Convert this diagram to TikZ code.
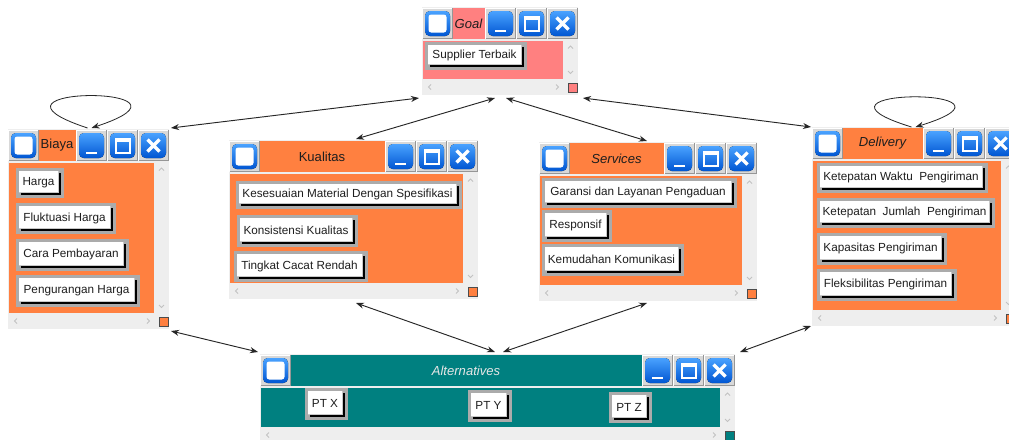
\documentclass[tikz,border=0pt]{standalone}
\usepackage{fontspec}
\setmainfont{Liberation Sans}
\usetikzlibrary{arrows.meta,fit}

\definecolor{winbg}{HTML}{EEEEEE}
\definecolor{cellgrey}{HTML}{D8D8D8}
\definecolor{celldark}{HTML}{969696}
\definecolor{btnhi}{HTML}{4AA2FF}
\definecolor{btnlo}{HTML}{0056D2}
\definecolor{orangec}{HTML}{FF8040}
\definecolor{pinkc}{HTML}{FF8080}
\definecolor{tealc}{HTML}{008080}
\definecolor{chev}{HTML}{C2C2C2}
\definecolor{itemgrey}{HTML}{ABABAB}
\definecolor{itemedge}{HTML}{C8C8C8}
\definecolor{txt}{HTML}{1E1E1E}
\definecolor{alttxt}{HTML}{E6E6E6}

% base of a title-bar button: #1 left x, #2 top y
\newcommand\gwBase[2]{%
  \fill[cellgrey] (#1,#2) rectangle ++(31,31);
  \draw[white, line width=0.75pt] (#1+0.5,#2+31) |- (#1+31,#2+0.5);
  \draw[celldark, line width=0.75pt] (#1+0.5,#2+30.5) -| (#1+30.5,#2);
  \fill[top color=btnhi, bottom color=btnlo, rounded corners=3.5pt] (#1+3,#2+3) rectangle (#1+28,#2+28);
}
\newcommand\gwIconBtn[2]{\gwBase{#1}{#2}%
  \fill[white, rounded corners=2pt] (#1+6.5,#2+6.5) rectangle (#1+24.5,#2+24.5);}
\newcommand\gwMinBtn[2]{\gwBase{#1}{#2}%
  \draw[white, line width=1.6pt] (#1+10,#2+23) -- (#1+21,#2+23);}
\newcommand\gwMaxBtn[2]{\gwBase{#1}{#2}%
  \draw[white, line width=1.5pt] (#1+8.5,#2+9) rectangle (#1+22.5,#2+22.5);
  \draw[white, line width=1.5pt] (#1+8.5,#2+10.5) -- (#1+22.5,#2+10.5);}
\newcommand\gwCloseBtn[2]{\gwBase{#1}{#2}%
  \draw[white, line width=2.4pt] (#1+9.5,#2+9.5) -- (#1+21.5,#2+21.5)
                                 (#1+9.5,#2+21.5) -- (#1+21.5,#2+9.5);}

% window: #1 name, #2 L, #3 R, #4 T, #5 B (content bottom), #6 colour, #7 title, #8 title colour
\newcommand\gwWin[8]{%
  \fill[winbg] (#2,#4-1) rectangle (#3,#5+16);
  \fill[#6] (#2+30,#4) rectangle (#3-93,#4+31);
  \gwIconBtn{#2}{#4}
  \gwMinBtn{#3-93}{#4}
  \gwMaxBtn{#3-62}{#4}
  \gwCloseBtn{#3-31}{#4}
  \node[titletext, text=#8] (#1-title) at ({(#2+#3-63)/2},#4+15.5) {#7};
  \fill[#6] (#2+1,#4+33) rectangle (#3-15,#5);
  \draw[chev, line width=0.6pt] (#3-10,#4+40.5) -- (#3-7.5,#4+38) -- (#3-5,#4+40.5);
  \draw[chev, line width=0.6pt] (#3-10,#5-8) -- (#3-7.5,#5-5.5) -- (#3-5,#5-8);
  \draw[chev, line width=0.6pt] (#2+9,#5+5.5) -- (#2+6.5,#5+8) -- (#2+9,#5+10.5);
  \draw[chev, line width=0.6pt] (#3-22,#5+5.5) -- (#3-19.5,#5+8) -- (#3-22,#5+10.5);
  \filldraw[fill=#6, draw=black!70, line width=0.5pt] (#3-10,#5+4) rectangle (#3-1,#5+13);
}

% item button: #1 name, #2 x1, #3 y1, #4 x2, #5 y2, #6 text
\newcommand\gwItem[6]{%
  \fill[itemgrey] (#2,#3) rectangle (#4,#5);
  \fill[black] (#2+5,#3+5) rectangle (#4-3,#5-3);
  \fill[itemedge] (#2+3,#3+3) rectangle (#4-5,#5-5);
  \fill[white] (#2+3,#3+3) rectangle (#4-6,#5-6);
  \node[itemtext] (#1) at ({(#2+#4-3)/2},{(#3+#5-1)/2}) {#6};
}

\begin{document}
\begin{tikzpicture}[x=0.75pt,y=-0.75pt,
  hub/.style={inner sep=0pt, outer sep=0pt, draw=none},
  titletext/.style={font=\fontsize{9.8}{12}\selectfont, inner sep=0pt},
  itemtext/.style={font=\fontsize{8.8}{10}\selectfont, text=txt, inner sep=0pt},
  link/.style={{Stealth[length=6pt,width=4.5pt]}-{Stealth[length=6pt,width=4.5pt]}, line width=0.7pt, draw=black!85},
  selfloop/.style={-{Stealth[length=6pt,width=4.5pt]}, line width=0.6pt, draw=black!85}]

\clip (0,0) rectangle (1009,439);
\fill[white] (0,0) rectangle (1009,439);

% ---------- windows ----------
\gwWin{goalw}{422}{578}{8}{79}{pinkc}{\itshape Goal}{txt}
\gwItem{sup}{425}{42}{527}{70}{Supplier Terbaik}

\gwWin{biayaw}{8}{169}{130}{313}{orangec}{Biaya}{txt}
\gwItem{harga}{16}{168}{64}{198}{Harga}
\gwItem{fluk}{16}{203}{116}{234}{Fluktuasi Harga}
\gwItem{cara}{16}{239}{129}{271}{Cara Pembayaran}
\gwItem{pengh}{16}{275}{140}{307}{Pengurangan Harga}

\gwWin{kualw}{229}{478}{141}{283}{orangec}{Kualitas}{txt}
\gwItem{kes}{236}{181}{462}{209}{Kesesuaian Material Dengan Spesifikasi}
\gwItem{kons}{237}{215}{358}{247}{Konsistensi Kualitas}
\gwItem{ting}{234}{251}{368}{282}{Tingkat Cacat Rendah}

\gwWin{servw}{539}{757}{143}{285}{orangec}{\itshape Services}{txt}
\gwItem{gar}{542}{178}{737}{208}{Garansi dan Layanan Pengaduan}
\gwItem{resp}{542}{210}{612}{242}{Responsif}
\gwItem{kem}{542}{244}{684}{276}{Kemudahan Komunikasi}

\gwWin{delw}{812}{1016}{128}{310}{orangec}{\itshape Delivery}{txt}
\gwItem{kwp}{817}{163}{988}{193}{Ketepatan Waktu\ \ Pengiriman}
\gwItem{kjp}{817}{198}{995}{228}{Ketepatan\ \ Jumlah\ \ Pengiriman}
\gwItem{kap}{817}{233}{947}{265}{Kapasitas Pengiriman}
\gwItem{flek}{817}{269}{957}{301}{Fleksibilitas Pengiriman}

\gwWin{altw}{260}{735}{355}{427}{tealc}{\itshape Alternatives}{alttxt}
\gwItem{ptx}{305}{388}{348}{420}{PT X}
\gwItem{pty}{468}{390}{512}{422}{PT Y}
\gwItem{ptz}{609}{392}{652}{423}{PT Z}

% ---------- hub nodes (connection extents of the windows) ----------
\node[hub, fit={(419,8) (583,98)}] (goal) {};
\node[hub, fit={(8,128) (171,331)}] (biaya) {};
\node[hub, fit={(232,139) (480,303)}] (kualitas) {};
\node[hub, fit={(539,141) (755,303)}] (services) {};
\node[hub, fit={(811,127) (1016,326)}] (delivery) {};
\node[hub, fit={(258,352) (740,439)}] (alt) {};

% ---------- connectors ----------
\draw[link] (biaya.north east) -- (goal.south west);
\draw[link] (kualitas.north) -- ([xshift=-4.5pt]goal.south);
\draw[link] (services.north) -- ([xshift=3.75pt]goal.south);
\draw[link] (delivery.north west) -- (goal.south east);
\draw[link] (biaya.south east) -- (alt.north west);
\draw[link] (kualitas.south) -- ([xshift=-3pt]alt.north);
\draw[link] (services.south) -- ([xshift=3pt]alt.north);
\draw[link] (delivery.south west) -- (alt.north east);

\draw[selfloop] ([xshift=-1.5pt]biaya.north) .. controls +(-130,-43) and +(130,-43) .. ([xshift=1.5pt]biaya.north);
\draw[selfloop] ([xshift=-1.5pt]delivery.north) .. controls +(-130,-40) and +(130,-40) .. ([xshift=1.5pt]delivery.north);
\end{tikzpicture}
\end{document}
